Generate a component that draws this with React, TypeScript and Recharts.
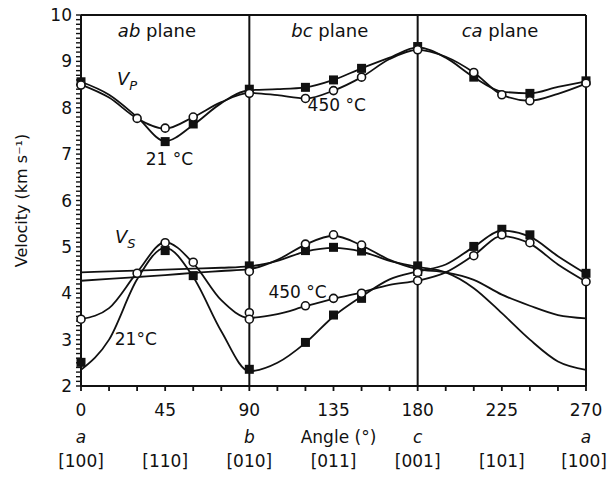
import { ComposedChart, Line, Scatter, XAxis, YAxis, ReferenceLine, ReferenceDot } from 'recharts';

// angles of the fitted curves (every 15 degrees)
const angles = [0, 15, 30, 45, 60, 75, 90, 105, 120, 135, 150, 165, 180, 195, 210, 225, 240, 255, 270];
const xTicks = angles;
const yLabels = [2, 3, 4, 5, 6, 7, 8, 9, 10];
const letters: Record<number, string> = { 0: 'a', 90: 'b', 180: 'c', 270: 'a' };
const directions: Record<number, string> = {
  0: '[100]', 45: '[110]', 90: '[010]', 135: '[011]', 180: '[001]', 225: '[101]', 270: '[100]',
};

// fitted curves, Vp
const vp21 = [8.56, 8.28, 7.8, 7.28, 7.63, 8.1, 8.38, 8.4, 8.44, 8.6, 8.85, 9.08, 9.3, 9.08, 8.66, 8.35, 8.31, 8.45, 8.57];
const vp450 = [8.5, 8.22, 7.77, 7.55, 7.8, 8.12, 8.32, 8.27, 8.2, 8.37, 8.66, 9.05, 9.25, 9.1, 8.76, 8.28, 8.15, 8.3, 8.52];

// fitted curves, Vs (two shear waves per temperature)
const vs21a = [2.35, 3.0, 4.3, 4.98, 4.35, 3.18, 2.32, 2.5, 2.93, 3.5, 3.93, 4.3, 4.47, 4.62, 5.0, 5.35, 5.22, 4.8, 4.42];
const vs21b = [4.45, 4.47, 4.49, 4.51, 4.53, 4.55, 4.58, 4.7, 4.9, 4.98, 4.9, 4.7, 4.57, 4.45, 4.11, 3.57, 3.0, 2.53, 2.35];
const vs450a = [3.44, 3.68, 4.45, 5.1, 4.65, 3.85, 3.47, 3.55, 3.72, 3.88, 4.02, 4.18, 4.27, 4.45, 4.82, 5.23, 5.07, 4.62, 4.25];
const vs450b = [4.27, 4.31, 4.35, 4.39, 4.44, 4.48, 4.52, 4.72, 5.05, 5.24, 5.03, 4.72, 4.52, 4.45, 4.29, 3.97, 3.73, 3.53, 3.46];

// measured points, 21 °C (filled squares)
const squares21 = [
  { x: 0, y: 8.56 }, { x: 45, y: 7.27 }, { x: 60, y: 7.65 }, { x: 90, y: 8.4 }, { x: 120, y: 8.44 },
  { x: 135, y: 8.6 }, { x: 150, y: 8.85 }, { x: 180, y: 9.32 }, { x: 210, y: 8.66 }, { x: 240, y: 8.31 },
  { x: 270, y: 8.58 },
  { x: 0, y: 2.51 }, { x: 45, y: 4.92 }, { x: 60, y: 4.38 }, { x: 90, y: 4.59 }, { x: 90, y: 2.36 },
  { x: 120, y: 4.92 }, { x: 120, y: 2.94 }, { x: 135, y: 4.99 }, { x: 135, y: 3.53 }, { x: 150, y: 4.91 },
  { x: 150, y: 3.89 }, { x: 180, y: 4.59 }, { x: 180, y: 4.47 }, { x: 210, y: 5.01 }, { x: 225, y: 5.38 },
  { x: 240, y: 5.26 }, { x: 270, y: 4.43 },
];

// measured points, 450 °C (open circles)
const circles450 = [
  { x: 0, y: 8.49 }, { x: 30, y: 7.77 }, { x: 45, y: 7.56 }, { x: 60, y: 7.8 }, { x: 90, y: 8.31 },
  { x: 120, y: 8.2 }, { x: 135, y: 8.37 }, { x: 150, y: 8.66 }, { x: 180, y: 9.25 }, { x: 210, y: 8.76 },
  { x: 225, y: 8.28 }, { x: 240, y: 8.15 }, { x: 270, y: 8.53 },
  { x: 0, y: 3.44 }, { x: 30, y: 4.43 }, { x: 45, y: 5.09 }, { x: 60, y: 4.67 }, { x: 90, y: 4.47 },
  { x: 90, y: 3.58 }, { x: 90, y: 3.44 }, { x: 120, y: 5.06 }, { x: 120, y: 3.73 }, { x: 135, y: 5.26 },
  { x: 135, y: 3.89 }, { x: 150, y: 5.04 }, { x: 150, y: 4.0 }, { x: 180, y: 4.45 }, { x: 180, y: 4.27 },
  { x: 210, y: 4.81 }, { x: 225, y: 5.26 }, { x: 240, y: 5.09 }, { x: 270, y: 4.25 },
];

const toPoints = (vals: number[]) => angles.map((x, i) => ({ x, y: vals[i] }));
const curves = [vp21, vp450, vs21a, vs21b, vs450a, vs450b];

const INK = '#111';
const FONT = 'DejaVu Sans';
const minorY = Array.from({ length: 81 }, (_, i) => Math.round((2 + i * 0.1) * 10) / 10);

// labels only; tick marks come from the axis tickLine
const YTick = ({ x, y, payload }: any) => {
  const v = payload.value;
  if (!yLabels.includes(v)) return <g />;
  return (
    <text x={x - 4} y={y} dy="0.36em" textAnchor="end" fontSize={17} fontFamily={FONT} fill={INK}>
      {v}
    </text>
  );
};

const XTick = ({ x, y, payload }: any) => {
  const v = payload.value;
  return (
    <g>
      {v % 45 === 0 && (
        <text x={x} y={y + 25} textAnchor="middle" fontSize={17} fontFamily={FONT} fill={INK}>{v}</text>
      )}
      {letters[v] && (
        <text x={x} y={y + 52} textAnchor="middle" fontSize={17} fontFamily={FONT} fontStyle="italic" fill={INK}>
          {letters[v]}
        </text>
      )}
      {v === 135 && (
        <text x={x + 5} y={y + 52} textAnchor="middle" fontSize={17} fontFamily={FONT} fill={INK}>Angle (°)</text>
      )}
      {directions[v] && (
        <text x={v === 270 ? x - 2 : x} y={y + 76} textAnchor="middle" fontSize={17} fontFamily={FONT} fill={INK}>{directions[v]}</text>
      )}
    </g>
  );
};

const Square = ({ cx, cy }: any) => <rect x={cx - 4.5} y={cy - 4.5} width={9} height={9} fill={INK} />;
const Circle = ({ cx, cy }: any) => (
  <circle cx={cx} cy={cy} r={4} fill="#fff" stroke={INK} strokeWidth={1.6} />
);

const note = (content: any) => (p: any) => <g transform={`translate(${p.cx},${p.cy})`}>{content}</g>;

export default function App() {
  return (
    <div style={{ position: 'absolute', left: 0, top: 0 }}>
      <ComposedChart width={608} height={481} margin={{ top: 15, right: 22, bottom: 0, left: 0 }} style={{ fontFamily: FONT }}>
        <XAxis
          dataKey="x"
          type="number"
          domain={[0, 270]}
          ticks={xTicks}
          interval={0}
          height={95}
          tickSize={5}
          tickMargin={0}
          tickLine={{ stroke: INK, strokeWidth: 1.8 }}
          tick={<XTick />}
          axisLine={{ stroke: INK, strokeWidth: 2 }}
        />
        <YAxis
          type="number"
          domain={[2, 10]}
          ticks={minorY}
          interval={0}
          width={81}
          tickSize={5}
          tickMargin={0}
          tickLine={{ stroke: INK, strokeWidth: 1.4 }}
          tick={<YTick />}
          axisLine={{ stroke: INK, strokeWidth: 2 }}
          label={{ value: 'Velocity (km s⁻¹)', angle: -90, position: 'insideLeft', offset: 21, style: { fontSize: 16, fill: INK, textAnchor: 'middle' } }}
        />
        <ReferenceLine y={10} stroke={INK} strokeWidth={2} />
        <ReferenceLine x={270} stroke={INK} strokeWidth={2} />
        <ReferenceLine x={90} stroke={INK} strokeWidth={2} />
        <ReferenceLine x={180} stroke={INK} strokeWidth={2} />
        {curves.map((c, i) => (
          <Line
            key={i}
            data={toPoints(c)}
            dataKey="y"
            type="monotone"
            stroke={INK}
            strokeWidth={1.8}
            dot={false}
            activeDot={false}
            isAnimationActive={false}
          />
        ))}
        <Scatter data={squares21} dataKey="y" shape={<Square />} isAnimationActive={false} />
        <Scatter data={circles450} dataKey="y" shape={<Circle />} isAnimationActive={false} />
        <ReferenceDot x={40.6} y={9.66} r={0} shape={note(
          <text textAnchor="middle" dy="0.36em" fontSize={18} fontFamily={FONT} fill={INK}>
            <tspan fontStyle="italic">ab</tspan> plane
          </text>
        )} />
        <ReferenceDot x={133} y={9.66} r={0} shape={note(
          <text textAnchor="middle" dy="0.36em" fontSize={18} fontFamily={FONT} fill={INK}>
            <tspan fontStyle="italic">bc</tspan> plane
          </text>
        )} />
        <ReferenceDot x={224} y={9.66} r={0} shape={note(
          <text textAnchor="middle" dy="0.36em" fontSize={18} fontFamily={FONT} fill={INK}>
            <tspan fontStyle="italic">ca</tspan> plane
          </text>
        )} />
        <ReferenceDot x={19.2} y={8.49} r={0} shape={note(
          <text fontSize={18} fontFamily={FONT} fill={INK} fontStyle="italic">
            V<tspan fontSize={13} dy={5}>P</tspan>
          </text>
        )} />
        <ReferenceDot x={18.2} y={5.09} r={0} shape={note(
          <text fontSize={18} fontFamily={FONT} fill={INK} fontStyle="italic">
            V<tspan fontSize={13} dy={5}>S</tspan>
          </text>
        )} />
        <ReferenceDot x={47.3} y={6.77} r={0} shape={note(
          <text textAnchor="middle" fontSize={17} fontFamily={FONT} fill={INK}>21 °C</text>
        )} />
        <ReferenceDot x={136.7} y={7.92} r={0} shape={note(
          <text textAnchor="middle" fontSize={17} fontFamily={FONT} fill={INK}>450 °C</text>
        )} />
        <ReferenceDot x={29.3} y={2.89} r={0} shape={note(
          <text textAnchor="middle" fontSize={17} fontFamily={FONT} fill={INK}>21°C</text>
        )} />
        <ReferenceDot x={115.8} y={3.89} r={0} shape={note(
          <text textAnchor="middle" fontSize={17} fontFamily={FONT} fill={INK}>450 °C</text>
        )} />
      </ComposedChart>
    </div>
  );
}
